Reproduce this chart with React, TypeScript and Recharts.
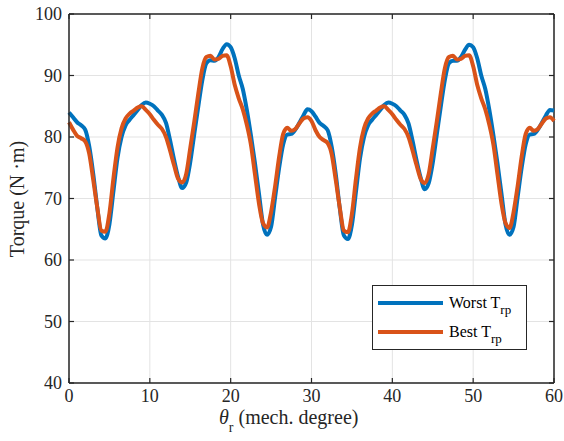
import React from "react";
import { LineChart, Line, XAxis, YAxis, CartesianGrid, ReferenceLine, Legend } from "recharts";

// Torque ripple, worst design (0..60 mech. degree, step 0.5)
const WORST = [
  84.0, 83.2, 82.4, 81.9, 81.2, 78.5, 74.0, 68.5, 64.0, 63.5,
  65.8, 71.2, 76.6, 80.0, 81.9, 82.8, 83.6, 84.4, 85.2, 85.6,
  85.4, 85.0, 84.3, 83.6, 82.3, 79.5, 76.3, 73.5, 71.7, 72.6,
  75.9, 80.5, 85.0, 89.3, 92.0, 92.5, 92.4, 93.0, 94.3, 95.1,
  94.6, 92.8, 90.0, 87.8, 84.4, 80.3, 75.8, 70.8, 65.8, 64.1,
  65.4, 70.2, 75.0, 78.8, 80.4, 80.5, 81.2, 82.3, 83.5, 84.5,
  84.2, 83.3, 82.3, 81.8, 81.1, 78.4, 74.0, 68.4, 64.0, 63.4,
  65.7, 71.1, 76.5, 80.0, 81.9, 82.8, 83.6, 84.4, 85.2, 85.6,
  85.4, 85.0, 84.3, 83.6, 82.2, 79.4, 76.2, 73.4, 71.5, 72.5,
  75.8, 80.4, 85.0, 89.3, 92.0, 92.4, 92.4, 93.0, 94.2, 95.0,
  94.6, 92.8, 90.0, 87.8, 84.4, 80.3, 75.8, 70.8, 65.8, 64.1,
  65.4, 70.2, 75.0, 78.8, 80.4, 80.5, 81.2, 82.3, 83.5, 84.4,
  84.3,
];

// Torque ripple, best design
const BEST = [
  82.4, 81.2, 80.2, 79.8, 79.3, 77.3, 73.0, 68.5, 64.8, 64.6,
  67.6, 73.3, 78.3, 81.4, 83.0, 83.8, 84.3, 84.8, 85.0, 84.4,
  83.7, 82.8, 82.0, 81.3, 80.0, 77.8, 75.4, 73.2, 72.6, 74.0,
  78.2, 82.5, 87.1, 91.2, 93.0, 93.2, 92.6, 92.7, 93.2, 93.3,
  91.5, 88.5, 86.3, 84.5, 82.0, 78.8, 74.0, 69.2, 66.0, 65.3,
  67.8, 72.0, 76.8, 80.5, 81.5, 81.0, 81.3, 82.2, 83.0, 83.2,
  82.6, 81.1, 80.0, 79.5, 79.0, 77.2, 73.0, 68.5, 64.8, 64.5,
  67.5, 73.2, 78.3, 81.4, 83.0, 83.8, 84.3, 84.8, 85.0, 84.4,
  83.7, 82.8, 82.0, 81.3, 80.0, 77.8, 75.4, 73.2, 72.5, 74.0,
  78.2, 82.5, 87.1, 91.2, 93.0, 93.2, 92.6, 92.7, 93.2, 93.3,
  91.5, 88.5, 86.3, 84.5, 82.0, 78.8, 74.0, 69.2, 66.0, 65.2,
  67.8, 72.0, 76.8, 80.5, 81.5, 81.0, 81.3, 82.2, 83.0, 83.2,
  82.6,
];

const THETA_STEP = 0.5;
const X_TICKS = [0, 10, 20, 30, 40, 50, 60];
const Y_TICKS = [40, 50, 60, 70, 80, 90, 100];
const SERIES_NAMES = ["Worst T", "Best T"];
const SERIES_SUBS = ["rp", "rp"];
const COLORS = ["#0072BD", "#D95319"];

const data = WORST.map((w, i) => ({ theta: i * THETA_STEP, worst: w, best: BEST[i] }));

const W = 564;
const H = 441;
const PLOT_TOP = 14;
const PLOT_LEFT = 69;
const PLOT_RIGHT = 554;
const PLOT_BOTTOM = 383;
const FONT = "Liberation Serif";
const INK = "#262626";
const TXT = { fontFamily: FONT };

const XTick = (props: any) => {
  const { x, payload } = props;
  return (
    <g>
      <line x1={x} x2={x} y1={PLOT_BOTTOM} y2={PLOT_BOTTOM - 5} stroke={INK} strokeWidth={1.2} />
      <line x1={x} x2={x} y1={PLOT_TOP} y2={PLOT_TOP + 5} stroke={INK} strokeWidth={1.2} />
      <text x={x} y={PLOT_BOTTOM + 19} textAnchor="middle" style={TXT} fontSize={18} fill={INK}>
        {payload.value}
      </text>
    </g>
  );
};

const YTick = (props: any) => {
  const { y, payload } = props;
  return (
    <g>
      <line x1={PLOT_LEFT} x2={PLOT_LEFT + 5} y1={y} y2={y} stroke={INK} strokeWidth={1.2} />
      <line x1={PLOT_RIGHT} x2={PLOT_RIGHT - 5} y1={y} y2={y} stroke={INK} strokeWidth={1.2} />
      <text x={PLOT_LEFT - 7} y={y + 6} textAnchor="end" style={TXT} fontSize={18} fill={INK}>
        {payload.value}
      </text>
    </g>
  );
};

const XLabel = (props: any) => {
  const vb = props.viewBox || {};
  const x0 = (vb.x ?? PLOT_LEFT) + 150;
  const y0 = (vb.y ?? PLOT_BOTTOM) + 41;
  return (
    <text x={x0} y={y0} style={TXT} fontSize={20} fill={INK}>
      <tspan fontStyle="italic">θ</tspan>
      <tspan dy={8} fontSize={14}>r</tspan>
      <tspan dy={-8}> (mech. degree)</tspan>
    </text>
  );
};

const YLabel = () => {
  const cx = 24;
  const cy = 199;
  return (
    <text
      x={cx}
      y={cy}
      textAnchor="middle"
      transform={`rotate(-90, ${cx}, ${cy})`}
      style={TXT}
      fontSize={20}
      fill={INK}
    >
      Torque (N ·m)
    </text>
  );
};

const LegendBox = (props: any) => {
  const payload = props.payload || [];
  const items = SERIES_NAMES.map((name) => payload.find((p: any) => p.value === name)).filter(Boolean);
  return (
    <svg width={155} height={65} style={{ display: "block" }}>
      <rect x={0.5} y={0.5} width={154} height={64} fill="#ffffff" stroke={INK} strokeWidth={1} />
      {items.map((p: any, i: number) => {
        const cy = 18 + i * 29;
        const idx = SERIES_NAMES.indexOf(p.value);
        return (
          <g key={p.value}>
            <line x1={6} x2={71} y1={cy} y2={cy} stroke={p.color} strokeWidth={4} />
            <text x={77} y={cy + 5} style={TXT} fontSize={16} fill="#000">
              {p.value}
              <tspan dy={6} fontSize={13}>{SERIES_SUBS[idx]}</tspan>
            </text>
          </g>
        );
      })}
    </svg>
  );
};

export default function App() {
  return (
    <div style={{ position: "absolute", left: 0, top: 0, width: W, height: H, background: "#fff" }}>
      <LineChart
        width={W}
        height={H}
        data={data}
        margin={{ top: PLOT_TOP, right: W - PLOT_RIGHT, bottom: 0, left: 0 }}
      >
        <CartesianGrid stroke="#e3e3e3" strokeWidth={1} vertical horizontal />
        <XAxis
          dataKey="theta"
          type="number"
          domain={[0, 60]}
          ticks={X_TICKS}
          tick={<XTick />}
          tickLine={false}
          axisLine={{ stroke: INK, strokeWidth: 1.5 }}
          height={H - PLOT_BOTTOM}
          label={<XLabel />}
          interval={0}
        />
        <YAxis
          type="number"
          domain={[40, 100]}
          ticks={Y_TICKS}
          tick={<YTick />}
          tickLine={false}
          axisLine={{ stroke: INK, strokeWidth: 1.5 }}
          width={PLOT_LEFT}
          label={<YLabel />}
          interval={0}
          allowDataOverflow
        />
        <ReferenceLine x={60} stroke={INK} strokeWidth={1.5} />
        <ReferenceLine y={100} stroke={INK} strokeWidth={1.5} />
        <Line
          name={SERIES_NAMES[0]}
          dataKey="worst"
          stroke={COLORS[0]}
          strokeWidth={4}
          dot={false}
          type="monotone"
          isAnimationActive={false}
        />
        <Line
          name={SERIES_NAMES[1]}
          dataKey="best"
          stroke={COLORS[1]}
          strokeWidth={4}
          dot={false}
          type="monotone"
          isAnimationActive={false}
        />
        <Legend
          layout="horizontal"
          verticalAlign="middle"
          align="center"
          content={<LegendBox />}
          wrapperStyle={{ left: 372, top: 285, width: 155, height: 65 }}
        />
      </LineChart>
    </div>
  );
}
